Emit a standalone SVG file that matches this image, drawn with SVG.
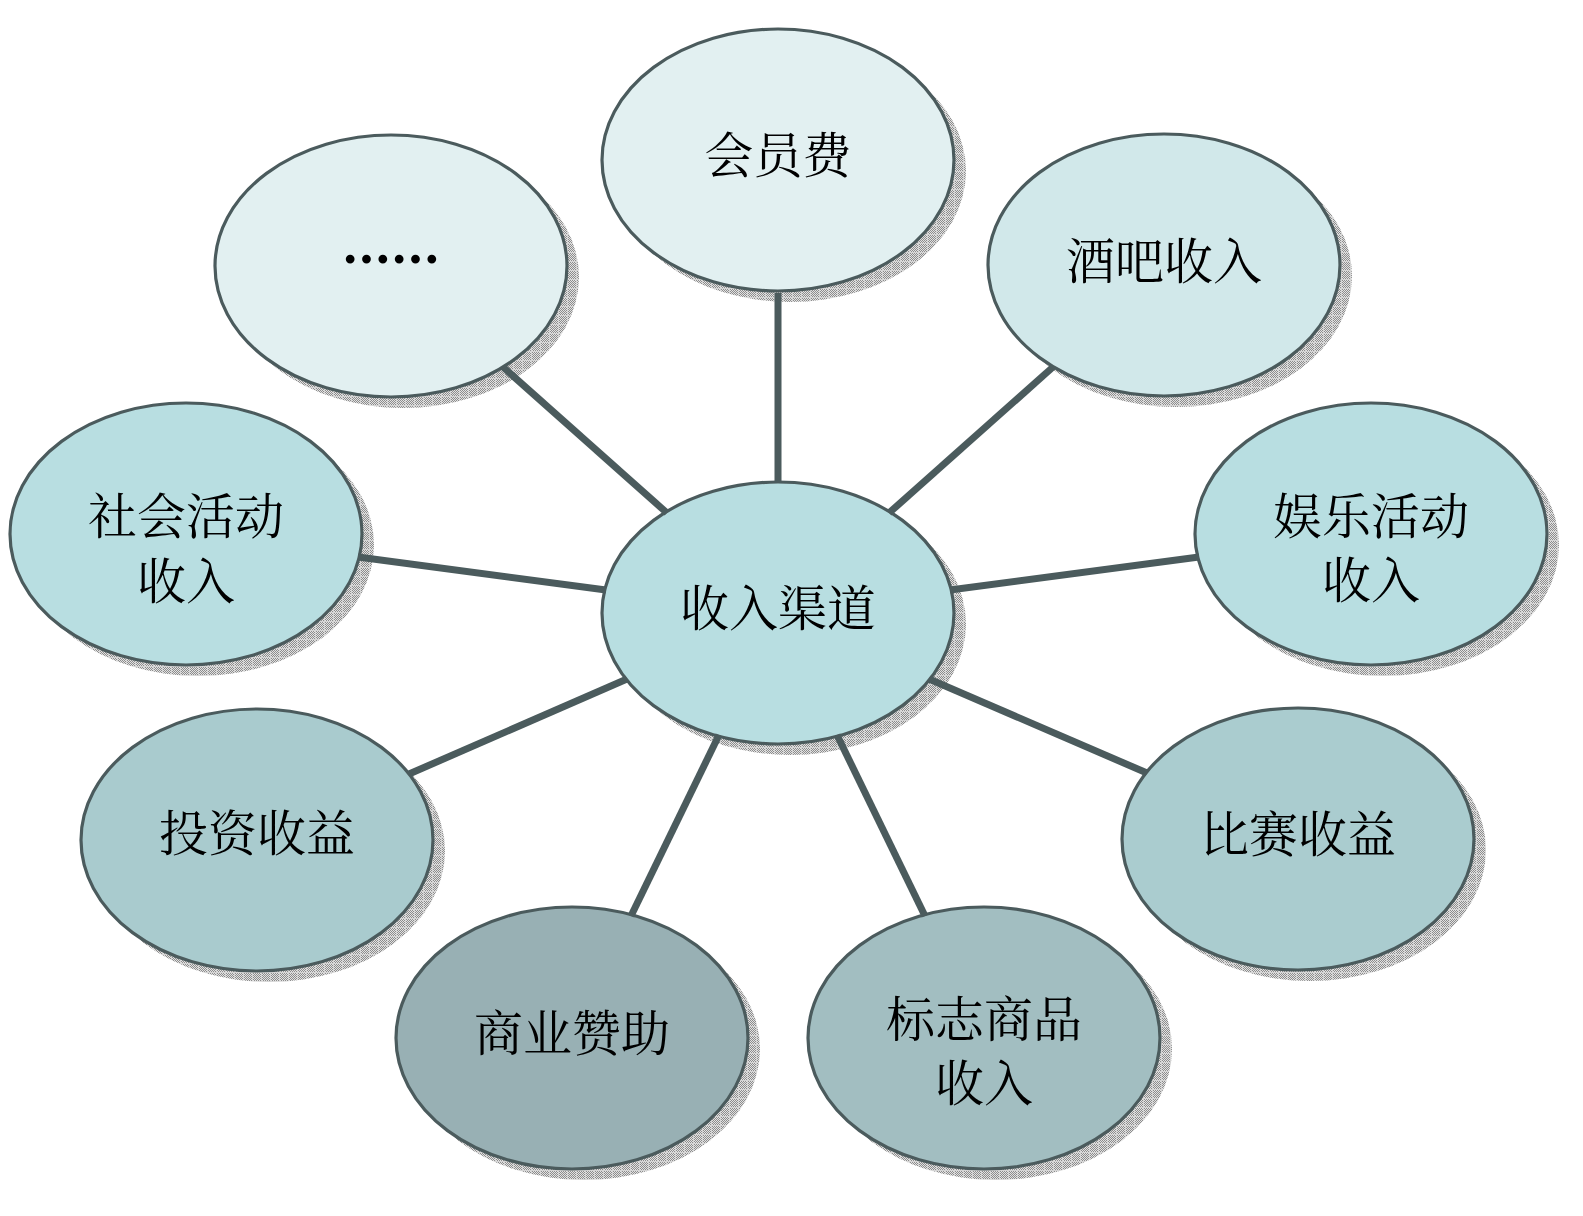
<svg xmlns="http://www.w3.org/2000/svg" width="1583" height="1216" viewBox="0 0 1583 1216">
<defs>
<pattern id="chk" width="2" height="2" patternUnits="userSpaceOnUse">
<rect width="2" height="2" fill="#e2e2e2"/>
<rect width="1" height="1" fill="#8c8c8c"/>
<rect x="1" y="1" width="1" height="1" fill="#8c8c8c"/>
</pattern>
<pattern id="shade" width="9" height="9" patternUnits="userSpaceOnUse">
<rect width="9" height="9" fill="url(#chk)"/>
<rect width="9" height="1" fill="#d4d4d4"/>
<rect width="1" height="9" fill="#d4d4d4"/>
</pattern>
</defs>
<style>
.sh{fill:url(#shade);}
.el{stroke:#4b5b5d;stroke-width:3.2;}
.t{font-family:"Noto Serif CJK SC","Noto Sans CJK SC","Liberation Serif",serif;font-size:49px;fill:#000;text-anchor:middle;dominant-baseline:central;}
.dots{font-family:"Noto Serif CJK SC","Noto Sans CJK SC",serif;font-size:49px;font-weight:bold;fill:#000;stroke:#000;stroke-width:3;text-anchor:middle;dominant-baseline:central;}
.c{stroke:#4b5b5d;stroke-width:7;fill:none;}
</style>
<rect width="1583" height="1216" fill="#ffffff"/>

<g id="node-center">
<ellipse class="sh" cx="790" cy="624" rx="176" ry="131"/>
<ellipse class="el" cx="778" cy="613" rx="176" ry="131" fill="#b8dee1"/>
<text class="t" x="778" y="605">收入渠道</text>
</g>

<g id="node-membership">
<ellipse class="sh" cx="790" cy="171" rx="176" ry="131"/>
<ellipse class="el" cx="778" cy="160" rx="176" ry="131" fill="#e2f0f1"/>
<text class="t" x="778" y="152">会员费</text>
</g>

<g id="node-bar">
<ellipse class="sh" cx="1176" cy="276" rx="176" ry="131"/>
<ellipse class="el" cx="1164" cy="265" rx="176" ry="131" fill="#d1e8ea"/>
<text class="t" x="1164" y="258">酒吧收入</text>
</g>

<g id="node-entertainment">
<ellipse class="sh" cx="1383" cy="545" rx="176" ry="131"/>
<ellipse class="el" cx="1371" cy="534" rx="176" ry="131" fill="#b8dee1"/>
<text class="t" x="1371" y="513">娱乐活动</text>
<text class="t" x="1371" y="577">收入</text>
</g>

<g id="node-match">
<ellipse class="sh" cx="1310" cy="850" rx="176" ry="131"/>
<ellipse class="el" cx="1298" cy="839" rx="176" ry="131" fill="#aacccf"/>
<text class="t" x="1298" y="831">比赛收益</text>
</g>

<g id="node-merch">
<ellipse class="sh" cx="996" cy="1049" rx="176" ry="131"/>
<ellipse class="el" cx="984" cy="1038" rx="176" ry="131" fill="#a2bec1"/>
<text class="t" x="984" y="1016">标志商品</text>
<text class="t" x="984" y="1080">收入</text>
</g>

<g id="node-sponsor">
<ellipse class="sh" cx="584" cy="1049" rx="176" ry="131"/>
<ellipse class="el" cx="572" cy="1038" rx="176" ry="131" fill="#98b0b4"/>
<text class="t" x="572" y="1030">商业赞助</text>
</g>

<g id="node-invest">
<ellipse class="sh" cx="269" cy="851" rx="176" ry="131"/>
<ellipse class="el" cx="257" cy="840" rx="176" ry="131" fill="#a9cbce"/>
<text class="t" x="257" y="830">投资收益</text>
</g>

<g id="node-social">
<ellipse class="sh" cx="198" cy="545" rx="176" ry="131"/>
<ellipse class="el" cx="186" cy="534" rx="176" ry="131" fill="#b8dee1"/>
<text class="t" x="186" y="513">社会活动</text>
<text class="t" x="186" y="578">收入</text>
</g>

<g id="node-more">
<ellipse class="sh" cx="403" cy="277" rx="176" ry="131"/>
<ellipse class="el" cx="391" cy="266" rx="176" ry="131" fill="#e2f0f1"/>
<text class="dots" x="391" y="257">……</text>
</g>

<g id="connectors">
<line class="c" x1="778" y1="481" x2="778" y2="293"/>
<line class="c" x1="889" y1="513" x2="1053" y2="367"/>
<line class="c" x1="950" y1="590" x2="1199" y2="557"/>
<line class="c" x1="929" y1="679" x2="1147" y2="773"/>
<line class="c" x1="837" y1="735" x2="925" y2="916"/>
<line class="c" x1="719" y1="735" x2="631" y2="916"/>
<line class="c" x1="627" y1="679" x2="409" y2="774"/>
<line class="c" x1="606" y1="590" x2="358" y2="557"/>
<line class="c" x1="667" y1="513" x2="503" y2="367"/>
</g>
</svg>
